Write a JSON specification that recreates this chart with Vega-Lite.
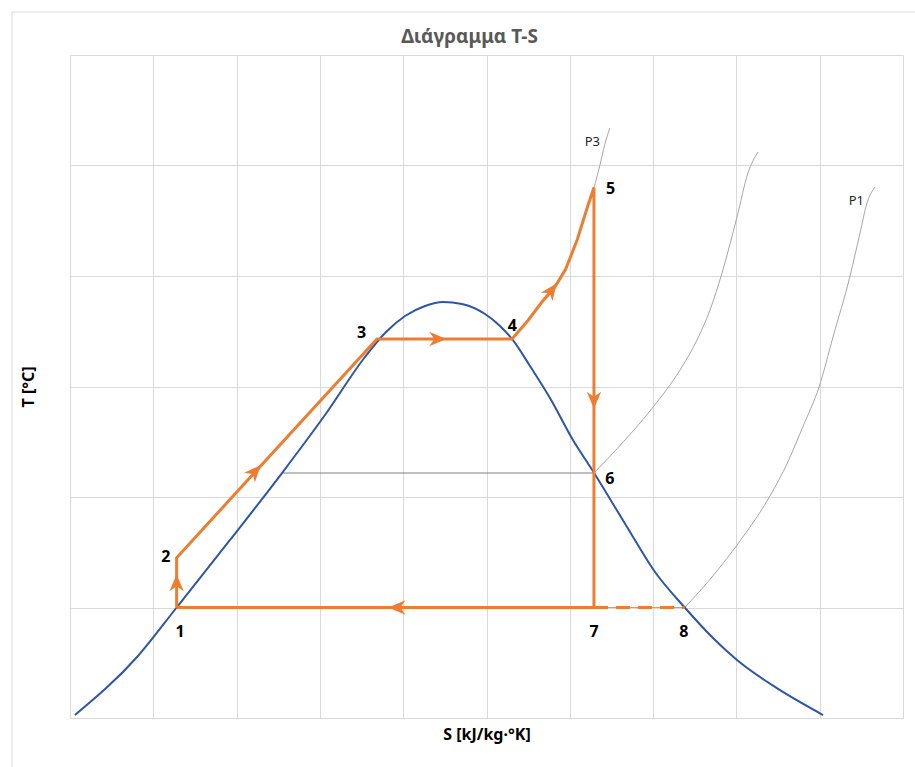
{
  "$schema": "https://vega.github.io/schema/vega-lite/v6.json",
  "width": 833,
  "height": 663,
  "autosize": {"type": "none"},
  "padding": {"left": 70, "top": 55, "right": 12, "bottom": 49},
  "background": "white",
  "config": {
    "view": {"stroke": null},
    "font": "Noto Sans",
    "axis": {"domain": false, "ticks": false, "labels": false, "gridColor": "#d9d9d9", "gridWidth": 1, "titleFont": "Noto Sans", "titleFontWeight": "bold", "titleFontSize": 16, "titleColor": "#000000"}
  },
  "title": {"text": "Διάγραμμα T-S", "fontSize": 19, "fontWeight": "bold", "color": "#595959", "font": "Noto Sans", "offset": -35, "dx": -17},
  "datasets": {
    "curves": [
      {"series": "dome", "ord": 1, "s": 0.06, "t": 0.027},
      {"series": "dome", "ord": 2, "s": 0.816, "t": 0.561},
      {"series": "dome", "ord": 3, "s": 1.28, "t": 1.0},
      {"series": "dome", "ord": 4, "s": 1.921, "t": 1.611},
      {"series": "dome", "ord": 5, "s": 2.545, "t": 2.217},
      {"series": "dome", "ord": 6, "s": 3.061, "t": 2.742},
      {"series": "dome", "ord": 7, "s": 3.541, "t": 3.267},
      {"series": "dome", "ord": 8, "s": 3.782, "t": 3.484},
      {"series": "dome", "ord": 9, "s": 4.022, "t": 3.638},
      {"series": "dome", "ord": 10, "s": 4.262, "t": 3.729},
      {"series": "dome", "ord": 11, "s": 4.478, "t": 3.765},
      {"series": "dome", "ord": 12, "s": 4.706, "t": 3.747},
      {"series": "dome", "ord": 13, "s": 4.982, "t": 3.656},
      {"series": "dome", "ord": 14, "s": 5.162, "t": 3.548},
      {"series": "dome", "ord": 15, "s": 5.306, "t": 3.43},
      {"series": "dome", "ord": 16, "s": 5.522, "t": 3.186},
      {"series": "dome", "ord": 17, "s": 5.762, "t": 2.896},
      {"series": "dome", "ord": 18, "s": 6.038, "t": 2.516},
      {"series": "dome", "ord": 19, "s": 6.29, "t": 2.22},
      {"series": "dome", "ord": 20, "s": 6.687, "t": 1.729},
      {"series": "dome", "ord": 21, "s": 7.023, "t": 1.321},
      {"series": "dome", "ord": 22, "s": 7.38, "t": 1.0},
      {"series": "dome", "ord": 23, "s": 7.719, "t": 0.724},
      {"series": "dome", "ord": 24, "s": 8.007, "t": 0.525},
      {"series": "dome", "ord": 25, "s": 8.463, "t": 0.281},
      {"series": "dome", "ord": 26, "s": 9.04, "t": 0.027},

      {"series": "P3", "ord": 1, "s": 5.306, "t": 3.43},
      {"series": "P3", "ord": 2, "s": 5.5, "t": 3.6},
      {"series": "P3", "ord": 3, "s": 5.66, "t": 3.76},
      {"series": "P3", "ord": 4, "s": 5.82, "t": 3.9},
      {"series": "P3", "ord": 5, "s": 5.95, "t": 4.06},
      {"series": "P3", "ord": 6, "s": 6.09, "t": 4.33},
      {"series": "P3", "ord": 7, "s": 6.21, "t": 4.62},
      {"series": "P3", "ord": 8, "s": 6.29, "t": 4.8},
      {"series": "P3", "ord": 9, "s": 6.36, "t": 5.0},
      {"series": "P3", "ord": 10, "s": 6.42, "t": 5.19},
      {"series": "P3", "ord": 11, "s": 6.48, "t": 5.34},

      {"series": "P2", "ord": 1, "s": 6.29, "t": 2.217},
      {"series": "P2", "ord": 2, "s": 6.663, "t": 2.516},
      {"series": "P2", "ord": 3, "s": 7.0, "t": 2.814},
      {"series": "P2", "ord": 4, "s": 7.323, "t": 3.149},
      {"series": "P2", "ord": 5, "s": 7.527, "t": 3.421},
      {"series": "P2", "ord": 6, "s": 7.683, "t": 3.692},
      {"series": "P2", "ord": 7, "s": 7.827, "t": 4.027},
      {"series": "P2", "ord": 8, "s": 8.007, "t": 4.534},
      {"series": "P2", "ord": 9, "s": 8.139, "t": 4.932},
      {"series": "P2", "ord": 10, "s": 8.259, "t": 5.122},

      {"series": "P1", "ord": 1, "s": 7.38, "t": 1.0},
      {"series": "P1", "ord": 2, "s": 7.707, "t": 1.276},
      {"series": "P1", "ord": 3, "s": 8.043, "t": 1.602},
      {"series": "P1", "ord": 4, "s": 8.331, "t": 1.919},
      {"series": "P1", "ord": 5, "s": 8.595, "t": 2.281},
      {"series": "P1", "ord": 6, "s": 8.812, "t": 2.661},
      {"series": "P1", "ord": 7, "s": 8.992, "t": 2.995},
      {"series": "P1", "ord": 8, "s": 9.16, "t": 3.448},
      {"series": "P1", "ord": 9, "s": 9.364, "t": 4.0},
      {"series": "P1", "ord": 10, "s": 9.484, "t": 4.389},
      {"series": "P1", "ord": 11, "s": 9.568, "t": 4.661},
      {"series": "P1", "ord": 12, "s": 9.664, "t": 4.805},

      {"series": "P2flat", "ord": 1, "s": 2.545, "t": 2.217},
      {"series": "P2flat", "ord": 2, "s": 6.29, "t": 2.217},
      {"series": "P1flat", "ord": 1, "s": 6.29, "t": 1.0},
      {"series": "P1flat", "ord": 2, "s": 7.38, "t": 1.0},

      {"series": "cycle", "ord": 1, "s": 1.28, "t": 1.0},
      {"series": "cycle", "ord": 2, "s": 1.28, "t": 1.45},
      {"series": "cycle", "ord": 3, "s": 3.685, "t": 3.43},
      {"series": "cycle", "ord": 4, "s": 5.306, "t": 3.43},
      {"series": "cycle", "ord": 5, "s": 5.5, "t": 3.6},
      {"series": "cycle", "ord": 6, "s": 5.66, "t": 3.76},
      {"series": "cycle", "ord": 7, "s": 5.82, "t": 3.9},
      {"series": "cycle", "ord": 8, "s": 5.95, "t": 4.06},
      {"series": "cycle", "ord": 9, "s": 6.09, "t": 4.33},
      {"series": "cycle", "ord": 10, "s": 6.21, "t": 4.62},
      {"series": "cycle", "ord": 11, "s": 6.29, "t": 4.8},
      {"series": "cycle", "ord": 12, "s": 6.29, "t": 2.22},
      {"series": "cycle", "ord": 13, "s": 6.29, "t": 1.0},
      {"series": "cycle", "ord": 14, "s": 1.28, "t": 1.0},

      {"series": "dash", "ord": 1, "s": 6.29, "t": 1.0},
      {"series": "dash", "ord": 2, "s": 7.38, "t": 1.0}
    ],
    "arrows": [
      {"s": 1.28, "t": 1.22, "dir": "up"},
      {"s": 2.22, "t": 2.23, "dir": "ne"},
      {"s": 4.41, "t": 3.43, "dir": "right"},
      {"s": 5.78, "t": 3.87, "dir": "nne"},
      {"s": 6.29, "t": 2.88, "dir": "down"},
      {"s": 3.93, "t": 1.0, "dir": "left"}
    ],
    "points": [
      {"s": 1.32, "t": 0.78, "label": "1"},
      {"s": 1.15, "t": 1.46, "label": "2"},
      {"s": 3.5, "t": 3.48, "label": "3"},
      {"s": 5.31, "t": 3.55, "label": "4"},
      {"s": 6.49, "t": 4.79, "label": "5"},
      {"s": 6.48, "t": 2.16, "label": "6"},
      {"s": 6.29, "t": 0.78, "label": "7"},
      {"s": 7.37, "t": 0.78, "label": "8"}
    ],
    "isobars": [
      {"s": 6.27, "t": 5.21, "label": "P3"},
      {"s": 9.44, "t": 4.675, "label": "P1"}
    ],
    "frame": [
      {"s": -0.696, "t": 6.389, "s2": -0.696, "t2": -0.45},
      {"s": -0.696, "t": 6.389, "s2": 10.15, "t2": 6.389}
    ]
  },
  "encoding": {
    "x": {"field": "s", "type": "quantitative", "scale": {"domain": [0, 10], "nice": false, "zero": false}, "axis": {"values": [0, 1, 2, 3, 4, 5, 6, 7, 8, 9, 10], "title": "S [kJ/kg·°K]", "titlePadding": 8}},
    "y": {"field": "t", "type": "quantitative", "scale": {"domain": [0, 6], "nice": false, "zero": false}, "axis": {"values": [0, 1, 2, 3, 4, 5, 6], "title": "T [°C]", "titlePadding": 34}}
  },
  "layer": [
    {
      "data": {"name": "frame"},
      "mark": {"type": "rule", "color": "#d9d9d9", "strokeWidth": 1, "clip": false},
      "encoding": {"x2": {"field": "s2"}, "y2": {"field": "t2"}}
    },
    {
      "data": {"name": "curves"},
      "transform": [{"filter": "datum.series === 'P1' || datum.series === 'P2' || datum.series === 'P3' || datum.series === 'P1flat'"}],
      "mark": {"type": "line", "color": "#a6a6a6", "strokeWidth": 1, "interpolate": "monotone"},
      "encoding": {"detail": {"field": "series"}, "order": {"field": "ord"}}
    },
    {
      "data": {"name": "curves"},
      "transform": [{"filter": "datum.series === 'P2flat'"}],
      "mark": {"type": "line", "color": "#7f7f7f", "strokeWidth": 1},
      "encoding": {"order": {"field": "ord"}}
    },
    {
      "data": {"name": "curves"},
      "transform": [{"filter": "datum.series === 'dome'"}],
      "mark": {"type": "line", "color": "#2f55a4", "strokeWidth": 2, "interpolate": "monotone"},
      "encoding": {"order": {"field": "ord"}}
    },
    {
      "data": {"name": "curves"},
      "transform": [{"filter": "datum.series === 'dash'"}],
      "mark": {"type": "line", "color": "#ed7d31", "strokeWidth": 3, "strokeDash": [14, 8]},
      "encoding": {"order": {"field": "ord"}}
    },
    {
      "data": {"name": "curves"},
      "transform": [{"filter": "datum.series === 'cycle'"}],
      "mark": {"type": "line", "color": "#ed7d31", "strokeWidth": 3, "strokeJoin": "miter"},
      "encoding": {"order": {"field": "ord"}}
    },
    {
      "data": {"name": "arrows"},
      "transform": [{"filter": "datum.dir === 'up'"}],
      "mark": {"type": "point", "shape": "M0,-1L0.8,0.9L0,0.35L-0.8,0.9Z", "filled": true, "color": "#ed7d31", "opacity": 1, "size": 320, "angle": 0}
    },
    {
      "data": {"name": "arrows"},
      "transform": [{"filter": "datum.dir === 'ne'"}],
      "mark": {"type": "point", "shape": "M0,-1L0.8,0.9L0,0.35L-0.8,0.9Z", "filled": true, "color": "#ed7d31", "opacity": 1, "size": 320, "angle": 42}
    },
    {
      "data": {"name": "arrows"},
      "transform": [{"filter": "datum.dir === 'nne'"}],
      "mark": {"type": "point", "shape": "M0,-1L0.8,0.9L0,0.35L-0.8,0.9Z", "filled": true, "color": "#ed7d31", "opacity": 1, "size": 320, "angle": 36}
    },
    {
      "data": {"name": "arrows"},
      "transform": [{"filter": "datum.dir === 'right'"}],
      "mark": {"type": "point", "shape": "M0,-1L0.8,0.9L0,0.35L-0.8,0.9Z", "filled": true, "color": "#ed7d31", "opacity": 1, "size": 320, "angle": 90}
    },
    {
      "data": {"name": "arrows"},
      "transform": [{"filter": "datum.dir === 'down'"}],
      "mark": {"type": "point", "shape": "M0,-1L0.8,0.9L0,0.35L-0.8,0.9Z", "filled": true, "color": "#ed7d31", "opacity": 1, "size": 320, "angle": 180}
    },
    {
      "data": {"name": "arrows"},
      "transform": [{"filter": "datum.dir === 'left'"}],
      "mark": {"type": "point", "shape": "M0,-1L0.8,0.9L0,0.35L-0.8,0.9Z", "filled": true, "color": "#ed7d31", "opacity": 1, "size": 320, "angle": 270}
    },
    {
      "data": {"name": "points"},
      "mark": {"type": "text", "font": "Noto Sans", "fontWeight": "bold", "fontSize": 16, "color": "#000000", "align": "center", "baseline": "middle"},
      "encoding": {"text": {"field": "label"}}
    },
    {
      "data": {"name": "isobars"},
      "mark": {"type": "text", "font": "Noto Sans", "fontSize": 13, "color": "#262626", "align": "center", "baseline": "middle"},
      "encoding": {"text": {"field": "label"}}
    }
  ]
}
